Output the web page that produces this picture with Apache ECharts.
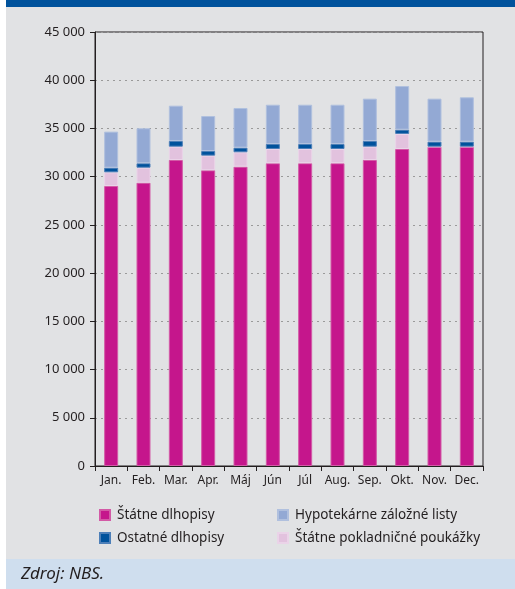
<!DOCTYPE html>
<html>
<head>
<meta charset="utf-8">
<script src="https://cdn.jsdelivr.net/npm/echarts@6/dist/echarts.min.js"></script>
<style>
html,body{margin:0;padding:0;background:#ffffff;}
#chart{width:515px;height:589px;}
</style>
</head>
<body>
<div id="chart"></div>
<script>
var categories = ['Jan.', 'Feb.', 'Mar.', 'Apr.', 'Máj', 'Jún', 'Júl', 'Aug.', 'Sep.', 'Okt.', 'Nov.', 'Dec.'];
var statneDlhopisy = [29030, 29380, 31730, 30660, 31040, 31390, 31390, 31390, 31730, 32870, 33110, 33110];
var pokladnicnePoukazky = [1420, 1550, 1380, 1520, 1490, 1480, 1480, 1480, 1380, 1560, 0, 0];
var ostatneDlhopisy = [480, 460, 590, 480, 480, 520, 520, 520, 590, 440, 520, 520];
var hypotekarneListy = [3740, 3630, 3660, 3630, 4110, 4070, 4070, 4070, 4390, 4530, 4460, 4600];
var yTicks = [0, 5000, 10000, 15000, 20000, 25000, 30000, 35000, 40000, 45000];

var chart = echarts.init(document.getElementById('chart'), null, {renderer: 'canvas'});
var font = '"Noto Sans", sans-serif';
var txt = '#231f20';

function fmt(v) {
  var s = String(v);
  return s.length > 3 ? s.slice(0, s.length - 3) + ' ' + s.slice(-3) : s;
}

function bar(name, data, color, border) {
  return {
    name: name, type: 'bar', stack: 'total', data: data,
    barWidth: 14,
    itemStyle: {color: color, borderColor: border, borderWidth: 1},
    emphasis: {disabled: true}
  };
}

var option = {
  animation: false,
  backgroundColor: '#ffffff',
  graphic: [
    {type: 'rect', shape: {x: 6, y: 0, width: 509, height: 7}, style: {fill: '#00529c'}, z: -10},
    {type: 'rect', shape: {x: 6, y: 7, width: 509, height: 552}, style: {fill: '#e1e2e4'}, z: -10},
    {type: 'rect', shape: {x: 6, y: 559, width: 509, height: 30}, style: {fill: '#cfdeee'}, z: -10}
  ],
  title: {
    text: 'Zdroj: NBS.', left: 16, top: 561,
    textStyle: {fontFamily: font, fontStyle: 'italic', fontWeight: 'normal', fontSize: 17, color: txt}
  },
  grid: {left: 95, right: 32, top: 32, bottom: 123, show: true, borderColor: '#231f20', borderWidth: 1, backgroundColor: 'transparent'},
  legend: [
    {
      data: ['Štátne dlhopisy', 'Ostatné dlhopisy'],
      orient: 'vertical', left: 94, top: 503, itemGap: 9,
      itemWidth: 10, itemHeight: 10, icon: 'rect',
      textStyle: {fontFamily: font, fontSize: 13.5, color: txt, padding: [0, 0, 0, 2]}
    },
    {
      data: ['Hypotekárne záložné listy', 'Štátne pokladničné poukážky'],
      orient: 'vertical', left: 272, top: 503, itemGap: 9,
      itemWidth: 10, itemHeight: 10, icon: 'rect',
      textStyle: {fontFamily: font, fontSize: 13.5, color: txt, padding: [0, 0, 0, 2]}
    }
  ],
  xAxis: {
    type: 'category', data: categories,
    axisLine: {lineStyle: {color: '#231f20', width: 1}},
    axisTick: {show: true, interval: 0, length: 5, lineStyle: {color: '#231f20'}},
    axisLabel: {fontFamily: font, fontSize: 12, color: txt, margin: 9, interval: 0}
  },
  yAxis: {
    type: 'value', min: 0, max: 45000, interval: 5000,
    axisLine: {show: true, lineStyle: {color: '#231f20', width: 1}},
    axisTick: {show: true, length: 5, lineStyle: {color: '#231f20'}},
    axisLabel: {fontFamily: font, fontSize: 13, color: txt, margin: 10, formatter: function (v) { return yTicks.indexOf(v) >= 0 ? fmt(v) : ''; }},
    splitLine: {show: true, lineStyle: {color: '#9a9a9a', type: [2, 4], width: 1}}
  },
  series: [
    bar('Štátne dlhopisy', statneDlhopisy, '#c5168c', '#d35aa6'),
    bar('Štátne pokladničné poukážky', pokladnicnePoukazky, '#e2c2de', '#ead3e8'),
    bar('Ostatné dlhopisy', ostatneDlhopisy, '#00529c', '#4d7fb8'),
    bar('Hypotekárne záložné listy', hypotekarneListy, '#93a9d4', '#b0c0de')
  ]
};
chart.setOption(option);
</script>
</body>
</html>
